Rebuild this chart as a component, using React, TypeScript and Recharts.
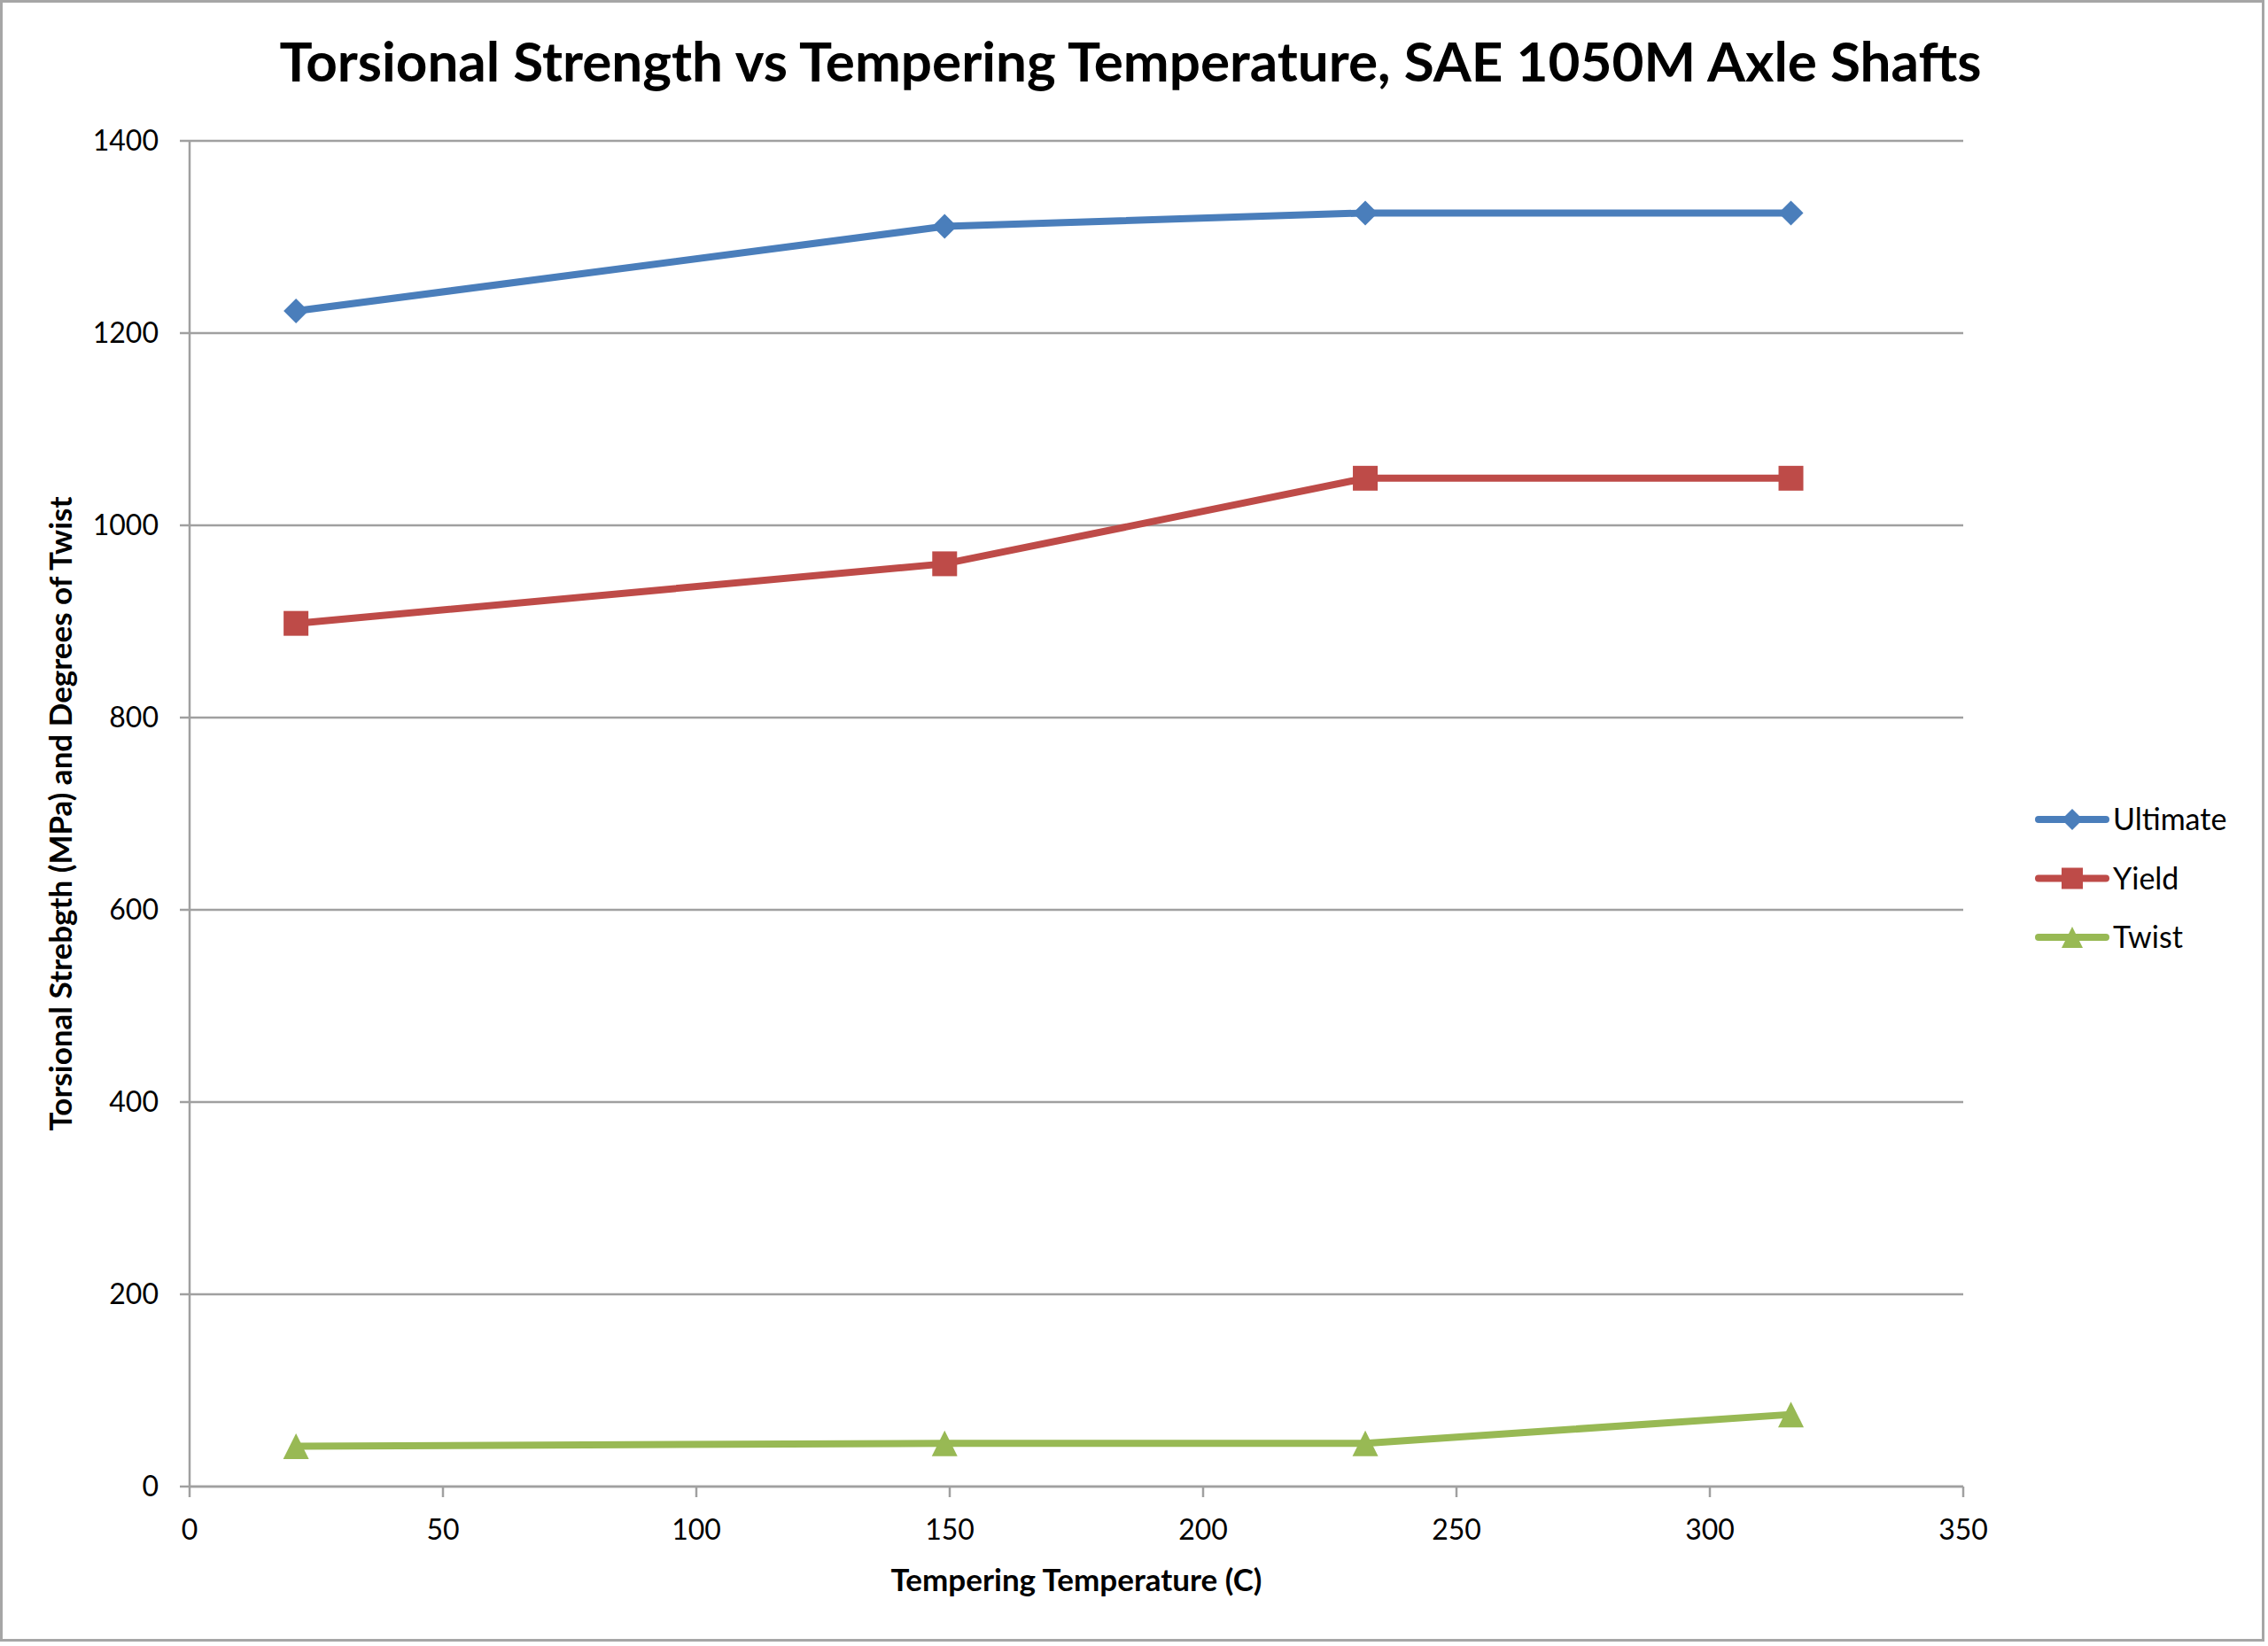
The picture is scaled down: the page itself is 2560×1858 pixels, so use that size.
import { CartesianGrid, Label, Legend, Line, LineChart, XAxis, YAxis } from "recharts";

const temps = [21, 149, 232, 316];
const ultimate = [1223, 1311, 1325, 1325];
const yieldStrength = [898, 960, 1049, 1049];
const twist = [42, 45, 45, 75];

const xTicks = [0, 50, 100, 150, 200, 250, 300, 350];
const yTicks = [0, 200, 400, 600, 800, 1000, 1200, 1400];

const TITLE = "Torsional Strength vs Tempering Temperature, SAE 1050M Axle Shafts";
const X_TITLE = "Tempering Temperature (C)";
const Y_TITLE = "Torsional Strebgth (MPa) and Degrees of Twist";

const BLUE = "#4A7EBB";
const RED = "#BE4B48";
const GREEN = "#98B954";
const GRID = "#a0a0a0";
const FONT = "Lato, 'Open Sans', sans-serif";

const rows = temps.map((t, i) => ({
  temp: t,
  ultimate: ultimate[i],
  yield: yieldStrength[i],
  twist: twist[i],
}));

type Shape = "diamond" | "square" | "triangle";

function markerPath(shape: Shape, cx: number, cy: number, s: number) {
  const h = s / 2;
  if (shape === "diamond") return `M${cx},${cy - h}L${cx + h},${cy}L${cx},${cy + h}L${cx - h},${cy}Z`;
  if (shape === "square") return `M${cx - h},${cy - h}h${s}v${s}h${-s}Z`;
  return `M${cx},${cy - h}L${cx + h},${cy + h}L${cx - h},${cy + h}Z`;
}

const makeDot = (shape: Shape, color: string, size: number) => (props: any) => {
  const { cx, cy, index } = props;
  if (cx == null || cy == null) return <g key={`e-${index}`} />;
  return <path key={`${shape}-${index}`} d={markerPath(shape, cx, cy, size)} fill={color} stroke="none" />;
};

const series: { key: string; name: string; color: string; shape: Shape; size: number }[] = [
  { key: "ultimate", name: "Ultimate", color: BLUE, shape: "diamond", size: 28 },
  { key: "yield", name: "Yield", color: RED, shape: "square", size: 28 },
  { key: "twist", name: "Twist", color: GREEN, shape: "triangle", size: 29 },
];

// legend box sits outside the layout (zero-size wrapper) so the plot keeps its size
function LegendBox() {
  return (
    <svg width={260} height={230} style={{ position: "absolute", left: 0, top: 0, overflow: "visible" }}>
      {series.map((s, i) => {
        const cy = 45 + i * 66.5;
        return (
          <g key={s.key}>
            <line x1={10} x2={86} y1={cy} y2={cy} stroke={s.color} strokeWidth={8} strokeLinecap="round" />
            <path d={markerPath(s.shape, 48, cy, 24)} fill={s.color} />
            <text x={94} y={cy + 12} fontFamily={FONT} fontSize={34} fill="#000">
              {s.name}
            </text>
          </g>
        );
      })}
    </svg>
  );
}

const tickStyle = { fill: "#000", fontFamily: FONT, fontSize: 32 };

export default function App() {
  return (
    <div style={{ position: "relative", width: 2560, height: 1858, background: "#fff" }}>
      <style>{"body{margin:0}"}</style>
      <div
        style={{
          position: "absolute",
          left: 0,
          top: 0,
          width: 2556,
          height: 1853,
          boxSizing: "border-box",
          border: "3px solid #a6a6a6",
        }}
      />
      <LineChart
        width={2560}
        height={1858}
        data={rows}
        margin={{ top: 159, right: 344, bottom: 60, left: 64 }}
        style={{ position: "absolute", left: 0, top: 0 }}
      >
        <text x={1276} y={92} textAnchor="middle" fontFamily={FONT} fontWeight={700} fontSize={62} fill="#000">
          {TITLE}
        </text>
        <CartesianGrid vertical={false} stroke={GRID} strokeWidth={2.5} />
        <XAxis
          type="number"
          dataKey="temp"
          domain={[0, 350]}
          ticks={xTicks}
          interval={0}
          height={120}
          tick={tickStyle}
          tickSize={12}
          tickMargin={25}
          stroke={GRID}
          strokeWidth={2.5}
          tickLine={{ stroke: GRID, strokeWidth: 2.5 }}
        >
          <Label
            content={({ viewBox }: any) => (
              <text
                x={viewBox.x + viewBox.width / 2}
                y={viewBox.y + 118}
                textAnchor="middle"
                fontFamily={FONT}
                fontWeight={700}
                fontSize={35}
                fill="#000"
              >
                {X_TITLE}
              </text>
            )}
          />
        </XAxis>
        <YAxis
          type="number"
          domain={[0, 1400]}
          ticks={yTicks}
          interval={0}
          width={150}
          tick={tickStyle}
          tickSize={11}
          tickMargin={24}
          stroke={GRID}
          strokeWidth={2.5}
          tickLine={{ stroke: GRID, strokeWidth: 2.5 }}
        >
          <Label
            content={({ viewBox }: any) => (
              <text
                transform={`translate(${viewBox.x + 17}, ${viewBox.y + viewBox.height / 2}) rotate(-90)`}
                textAnchor="middle"
                fontFamily={FONT}
                fontWeight={700}
                fontSize={35}
                fill="#000"
              >
                {Y_TITLE}
              </text>
            )}
          />
        </YAxis>
        <Legend
          content={() => <LegendBox />}
          wrapperStyle={{ position: "absolute", left: 2291, top: 880, width: 0, height: 0, overflow: "visible" }}
        />
        {series.map((s) => (
          <Line
            key={s.key}
            dataKey={s.key}
            name={s.name}
            stroke={s.color}
            strokeWidth={8}
            dot={makeDot(s.shape, s.color, s.size)}
            activeDot={false}
            isAnimationActive={false}
          />
        ))}
      </LineChart>
    </div>
  );
}
